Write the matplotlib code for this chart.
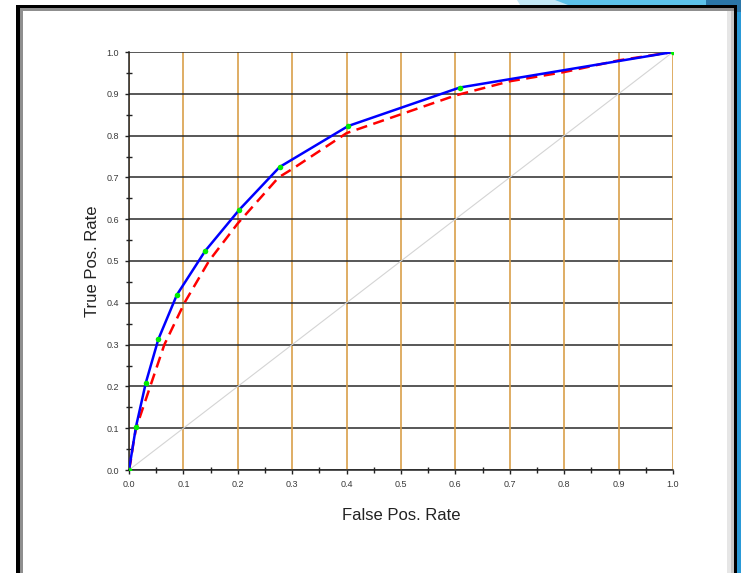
import matplotlib
matplotlib.use("Agg")
import matplotlib.pyplot as plt
from matplotlib.patches import Rectangle, Polygon
from matplotlib.ticker import MultipleLocator, FormatStrFormatter

# Empirical ROC points (blue, with green markers)
emp_fpr = [0.0, 0.0129, 0.031, 0.054, 0.088, 0.140, 0.203, 0.277, 0.403, 0.608, 1.0]
emp_tpr = [0.0, 0.104, 0.209, 0.313, 0.419, 0.524, 0.623, 0.725, 0.823, 0.915, 1.0]

# Fitted ROC curve (red dashed)
fit_fpr = [0.0, 0.003, 0.008, 0.013, 0.039, 0.065, 0.102, 0.147, 0.2, 0.275, 0.3,
           0.4, 0.5, 0.6, 0.7, 0.8, 0.9, 1.0]
fit_tpr = [0.0, 0.02, 0.064, 0.10, 0.20, 0.30, 0.40, 0.50, 0.59, 0.70, 0.72,
           0.806, 0.851, 0.896, 0.93, 0.952, 0.98, 1.0]

ticks = [0.0, 0.1, 0.2, 0.3, 0.4, 0.5, 0.6, 0.7, 0.8, 0.9, 1.0]

W, H = 741, 573
fig = plt.figure(figsize=(W / 100, H / 100), dpi=100)
fig.patch.set_facecolor("white")

def px(x, y, w, h, **kw):
    return Rectangle((x / W, 1 - (y + h) / H), w / W, h / H,
                     transform=fig.transFigure, **kw)

# Screenshot frame decoration
fig.patches.append(Polygon([[517 / W, 1], [741 / W, 1], [741 / W, 1 - 5 / H], [520 / W, 1 - 5 / H]],
                           closed=True, transform=fig.transFigure,
                           facecolor="#c4e8f6", edgecolor="none", zorder=0))
fig.patches.append(Polygon([[555 / W, 1], [741 / W, 1], [741 / W, 1 - 5 / H], [568 / W, 1 - 5 / H]],
                           closed=True, transform=fig.transFigure,
                           facecolor="#5cc2ea", edgecolor="none", zorder=0))
fig.patches.append(px(706, 0, 35, 5, facecolor="#2b76a8", edgecolor="none", zorder=0))
fig.patches.append(px(737, 0, 4, 12, facecolor="#2b76a8", edgecolor="none", zorder=0))
fig.patches.append(px(737, 12, 4, H - 12, facecolor="#2a9ad8", edgecolor="none", zorder=0))
fig.patches.append(px(727, 10, 8, H - 10, facecolor="#e6e6e6", edgecolor="none", zorder=1))
fig.patches.append(px(731, 10, 3, H - 10, facecolor="#c8c8c8", edgecolor="none", zorder=1))
fig.patches.append(px(16, 5, 721, 3, facecolor="black", edgecolor="none", zorder=2))
fig.patches.append(px(734, 5, 3, H - 5, facecolor="black", edgecolor="none", zorder=2))
fig.patches.append(px(16, 5, 3.5, H - 5, facecolor="black", edgecolor="none", zorder=2))
fig.patches.append(px(19.5, 8, 714, 2.5, facecolor="#8f8f8f", edgecolor="none", zorder=1))
fig.patches.append(px(19.5, 8, 3, H - 8, facecolor="#8f8f8f", edgecolor="none", zorder=1))

ax = fig.add_axes([129 / W, 1 - 470 / H, 544 / W, 418 / H])
ax.set_xlim(0, 1)
ax.set_ylim(0, 1)

for t in ticks:
    ax.axvline(t, color="#d9a04a", lw=1.2, zorder=1)
    ax.axhline(t, color="#2a2a2a", lw=1.1, zorder=1)

ax.plot([0, 1], [0, 1], color="#d4d4d4", lw=0.8, zorder=2)
ax.plot(fit_fpr, fit_tpr, color="#ff0000", lw=1.8, ls=(0, (4.5, 2.6)), zorder=3)
ax.plot(emp_fpr, emp_tpr, color="#0000ff", lw=1.8, zorder=4)
ax.plot(emp_fpr, emp_tpr, ls="none", marker="o", ms=4, mfc="#00ee00", mec="none", zorder=5)

for s in ["top", "right"]:
    ax.spines[s].set_visible(False)
for s in ["left", "bottom"]:
    ax.spines[s].set_color("#222222")
    ax.spines[s].set_linewidth(1.1)

ax.xaxis.set_major_locator(MultipleLocator(0.1))
ax.yaxis.set_major_locator(MultipleLocator(0.1))
ax.xaxis.set_minor_locator(MultipleLocator(0.05))
ax.yaxis.set_minor_locator(MultipleLocator(0.05))
ax.xaxis.set_major_formatter(FormatStrFormatter("%.1f"))
ax.yaxis.set_major_formatter(FormatStrFormatter("%.1f"))
ax.tick_params(which="major", direction="out", length=3, width=1, color="#222222",
               labelsize=6.5, labelcolor="#3a3a3a", pad=4)
ax.tick_params(which="minor", direction="inout", length=5, width=1, color="#222222")
for lab in ax.get_xticklabels() + ax.get_yticklabels():
    lab.set_fontfamily("Liberation Sans")

ax.set_xlabel("False Pos. Rate", fontsize=12, family="Liberation Sans", color="#222222", labelpad=14)
ax.set_ylabel("True Pos. Rate", fontsize=12, family="Liberation Sans", color="#222222", labelpad=5)

fig.savefig("out.png", dpi=100)
